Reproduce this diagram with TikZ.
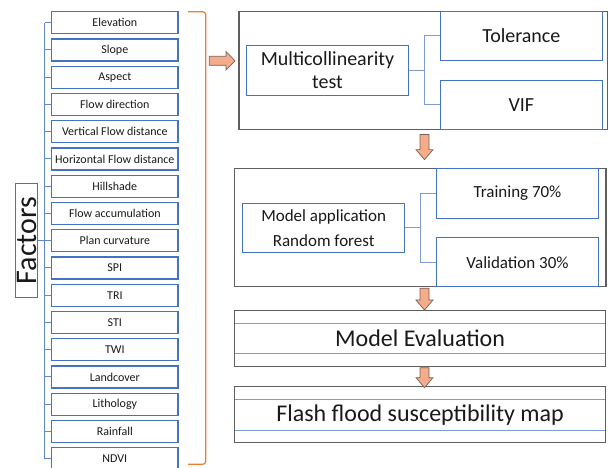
\documentclass[tikz,border=0pt]{standalone}
\usepackage{fontspec}
\setmainfont{Carlito}
\usetikzlibrary{calc}

\definecolor{boxblue}{RGB}{68,114,196}
\definecolor{linkblue}{RGB}{125,155,212}
\definecolor{framegray}{RGB}{95,95,95}
\definecolor{bracketorange}{RGB}{237,125,49}
\definecolor{arrowfill}{RGB}{244,172,138}
\definecolor{arrowline}{RGB}{120,95,85}
\definecolor{txt}{RGB}{25,25,25}

% block arrows: #1 = tail coordinate, #2 = tip coordinate
\newcommand{\flowdown}[2]{%
  \draw[fatarrow] ([xshift=-4.5pt]#1) -- ([xshift=4.5pt]#1)
    -- ([xshift=4.5pt,yshift=10pt]#2) -- ([xshift=8.5pt,yshift=10pt]#2)
    -- (#2) -- ([xshift=-8.5pt,yshift=10pt]#2)
    -- ([xshift=-4.5pt,yshift=10pt]#2) -- cycle;}
\newcommand{\flowright}[2]{%
  \draw[fatarrow] ([yshift=4.5pt]#1) -- ([xshift=-9pt,yshift=4.5pt]#2)
    -- ([xshift=-9pt,yshift=9.2pt]#2) -- (#2)
    -- ([xshift=-9pt,yshift=-9.2pt]#2) -- ([xshift=-9pt,yshift=-4.5pt]#2)
    -- ([yshift=-4.5pt]#1) -- cycle;}

\tikzset{
  factorbox/.style={draw=boxblue, line width=1.2pt, minimum width=126.3pt,
    minimum height=22pt, inner sep=0pt, text=txt,
    font=\fontsize{12}{14}\selectfont},
  groupframe/.style={draw=framegray, line width=1.3pt, inner sep=0pt},
  subbox/.style={draw=boxblue, line width=0.9pt, inner sep=0pt, text=txt, align=center},
  bandbox/.style={draw=boxblue!70!white, line width=1pt, inner sep=0pt, text=txt},
  link/.style={draw=linkblue, line width=1pt},
  tree/.style={draw=boxblue!85!white, line width=1pt},
  fatarrow/.style={fill=arrowfill, draw=arrowline, line width=0.7pt, line join=miter},
  bracketline/.style={draw=bracketorange, line width=1.2pt, rounded corners=3pt},
}

\begin{document}
\begin{tikzpicture}[x=1pt,y=-1pt]
\useasboundingbox (0,0) rectangle (608,468);

% ---- list of factors ----
\foreach \lbl [count=\i from 0] in {Elevation,Slope,Aspect,Flow direction,
  Vertical Flow distance,Horizontal Flow distance,Hillshade,Flow accumulation,
  Plan curvature,SPI,TRI,STI,TWI,Landcover,Lithology,Rainfall,NDVI}{
  \node[factorbox] (f\i) at (114.85,{22.7+27.25*\i}) {\lbl};
}
\coordinate (spine) at (44.7,0);
\draw[tree] (f0.west -| spine) -- (f16.west -| spine);
\foreach \i in {0,...,16}{
  \draw[tree] (f\i.west -| spine) -- (f\i.west);
}

% rotated title box
\node[draw=boxblue, line width=1.2pt, rotate=90, minimum width=114.4pt,
  minimum height=22pt, inner sep=0pt, text=txt,
  font=\fontsize{30}{34}\selectfont] (factors) at (26.7,240.5) {Factors};
\draw[tree] (factors.south) -- (factors.south -| spine);

% orange bracket grouping the factors
\draw[bracketline] (188,11.7) -- (205.7,11.7) -- (205.7,464.3) -- (188,464.3);

% ---- stage 1: multicollinearity test ----
\node[groupframe, minimum width=368.3pt, minimum height=117.6pt] (g1) at (423.15,70.5) {};
\node[subbox, minimum width=161.6pt, minimum height=49.3pt,
  font=\fontsize{20}{23}\selectfont] (multi) at (327.5,70.35) {Multicollinearity\\test};
\node[subbox, minimum width=162.7pt, minimum height=48.6pt,
  font=\fontsize{20}{24}\selectfont] (tol) at (521.35,36) {Tolerance};
\node[subbox, minimum width=162.7pt, minimum height=49pt,
  font=\fontsize{20}{24}\selectfont] (vif) at (521.35,104.8) {VIF};
\coordinate (fork1) at (424.3,0);
\draw[link] (multi.east) -- (multi.east -| fork1);
\draw[link] (multi.east -| fork1) |- (tol.west);
\draw[link] (multi.east -| fork1) |- (vif.west);

% ---- stage 2: model application ----
\node[groupframe, minimum width=371.3pt, minimum height=118.4pt] (g2) at (420.35,227.5) {};
\node[subbox, minimum width=162pt, minimum height=49pt,
  font=\fontsize{17}{25}\selectfont] (model) at (323.7,227.8) {Model application\\Random forest};
\node[subbox, minimum width=161.6pt, minimum height=50pt,
  font=\fontsize{17}{20}\selectfont] (train) at (517.5,193.3) {Training 70\%};
\node[subbox, minimum width=161.6pt, minimum height=49pt,
  font=\fontsize{17}{20}\selectfont] (valid) at (517.5,262.2) {Validation 30\%};
\coordinate (fork2) at (420.7,0);
\draw[link] (model.east) -- (model.east -| fork2);
\draw[link] (model.east -| fork2) |- (train.west);
\draw[link] (model.east -| fork2) |- (valid.west);

% ---- stage 3: evaluation ----
\node[bandbox, minimum width=370.8pt, minimum height=30pt,
  font=\fontsize{24}{28}\selectfont] (evalband) at (420.1,338.3) {Model Evaluation};
\node[groupframe, minimum width=370.8pt, minimum height=56pt] (g3) at (420.1,338.7) {};

% ---- stage 4: susceptibility map ----
\node[bandbox, minimum width=370.8pt, minimum height=30.7pt,
  font=\fontsize{24}{28}\selectfont] (mapband) at (420.1,414.65) {Flash flood susceptibility map};
\node[groupframe, minimum width=370.8pt, minimum height=56pt] (g4) at (420.1,414.7) {};

% ---- block arrows between stages ----
\coordinate (ax) at (424.5,0);
\coordinate (a1s) at ($(g1.south -| ax)+(0,4.5)$);
\coordinate (a1e) at ($(g2.north -| ax)+(0,-8)$);
\coordinate (a2s) at ($(g2.south -| ax)+(0,0.8)$);
\coordinate (a2e) at (g3.north -| ax);
\coordinate (a3s) at ($(g3.south -| ax)+(0,0.3)$);
\coordinate (a3e) at ($(g4.north -| ax)+(0,1.6)$);
\flowdown{a1s}{a1e}
\flowdown{a2s}{a2e}
\flowdown{a3s}{a3e}

\coordinate (ras) at (209.3,60.8);
\coordinate (rae) at (235,60.8);
\flowright{ras}{rae}
\end{tikzpicture}
\end{document}
